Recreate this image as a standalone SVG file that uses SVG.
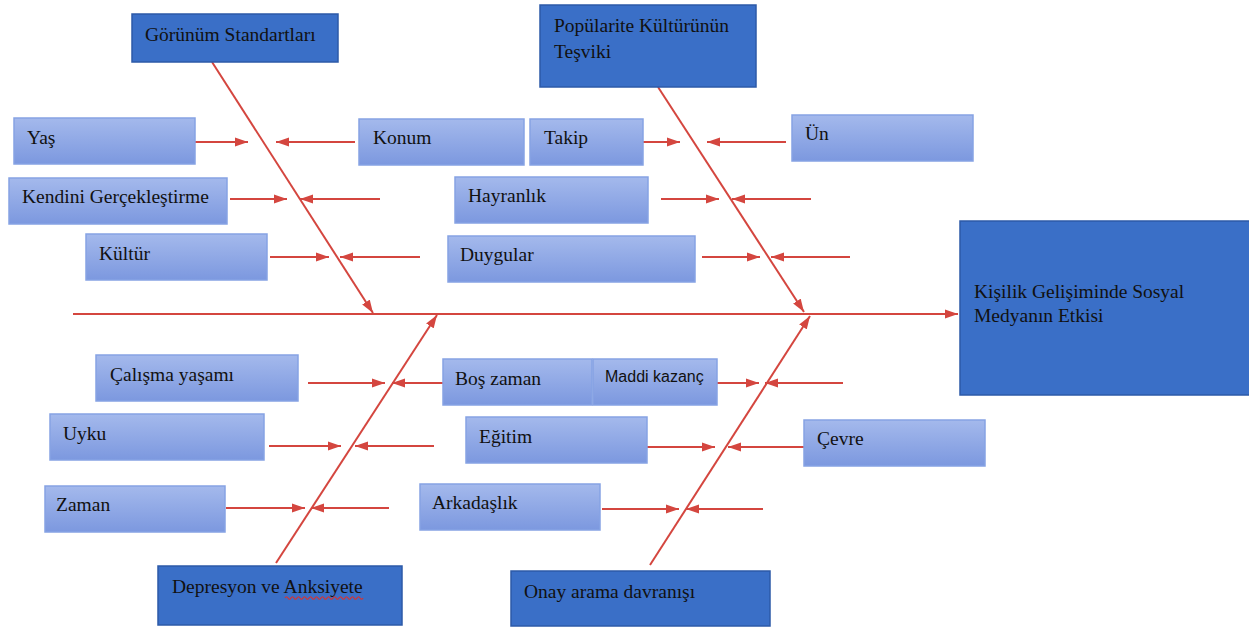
<svg xmlns="http://www.w3.org/2000/svg" width="1249" height="630" viewBox="0 0 1249 630">
<defs>
<linearGradient id="lg" x1="0" y1="0" x2="0" y2="1">
<stop offset="0" stop-color="#a4b9ec"/>
<stop offset="1" stop-color="#7c98df"/>
</linearGradient>
<marker id="ah" markerUnits="userSpaceOnUse" markerWidth="14" markerHeight="10" refX="13" refY="5" orient="auto">
<path d="M0,0.5 L13,5 L0,9.5 z" fill="#d4463f"/>
</marker>
<style>
.dark{fill:#3a6fc7;stroke:#2c5aa8;stroke-width:1.5}
.light{fill:url(#lg);stroke:#86a3e4;stroke-width:1.5}
.t{font-family:"Liberation Serif","Times New Roman",serif;font-size:19.5px;fill:#111}
.s{font-family:"Liberation Sans",Arial,sans-serif;font-size:16px;fill:#111}
.c line{stroke:#d4463f;stroke-width:2}
.a{marker-end:url(#ah)}
</style>
</defs>
<rect width="1249" height="630" fill="#ffffff"/>
<g class="c" id="connectors">
<line x1="73" y1="314" x2="958" y2="314" class="a"/>
<line x1="212" y1="62" x2="373" y2="313" class="a"/>
<line x1="658" y1="87" x2="804" y2="312" class="a"/>
<line x1="276" y1="563" x2="437" y2="315" class="a"/>
<line x1="650" y1="565" x2="810" y2="316" class="a"/>
<line x1="195" y1="142" x2="248" y2="142" class="a"/>
<line x1="355" y1="142" x2="276" y2="142" class="a"/>
<line x1="230" y1="199" x2="287" y2="199" class="a"/>
<line x1="380" y1="199" x2="300" y2="199" class="a"/>
<line x1="270" y1="257" x2="329" y2="257" class="a"/>
<line x1="420" y1="257" x2="340" y2="257" class="a"/>
<line x1="643" y1="142" x2="680" y2="142" class="a"/>
<line x1="786" y1="142" x2="707" y2="142" class="a"/>
<line x1="661" y1="199" x2="719" y2="199" class="a"/>
<line x1="811" y1="199" x2="732" y2="199" class="a"/>
<line x1="702" y1="257" x2="760" y2="257" class="a"/>
<line x1="850" y1="257" x2="771" y2="257" class="a"/>
<line x1="308" y1="383" x2="385" y2="383" class="a"/>
<line x1="443" y1="383" x2="392" y2="383" class="a"/>
<line x1="269" y1="446" x2="341" y2="446" class="a"/>
<line x1="434" y1="446" x2="355" y2="446" class="a"/>
<line x1="226" y1="508" x2="305" y2="508" class="a"/>
<line x1="389" y1="508" x2="311" y2="508" class="a"/>
<line x1="717" y1="383" x2="759" y2="383" class="a"/>
<line x1="843" y1="383" x2="765" y2="383" class="a"/>
<line x1="647" y1="447" x2="715" y2="447" class="a"/>
<line x1="804" y1="447" x2="728" y2="447" class="a"/>
<line x1="602" y1="509" x2="679" y2="509" class="a"/>
<line x1="763" y1="509" x2="686" y2="509" class="a"/>
</g>
<g id="n-effect"><rect class="dark" x="960" y="221" width="290" height="174"/><text class="t" x="974" y="298">Kişilik Gelişiminde Sosyal</text><text class="t" x="974" y="322">Medyanın Etkisi</text></g>
<g id="n-gorunum"><rect class="dark" x="132" y="14" width="206" height="48"/><text class="t" x="145" y="41">Görünüm Standartları</text></g>
<g id="n-populer"><rect class="dark" x="540" y="5" width="216" height="82"/><text class="t" x="554" y="32">Popülarite Kültürünün</text><text class="t" x="554" y="58">Teşviki</text></g>
<g id="n-depresyon"><rect class="dark" x="158" y="566" width="244" height="59"/><text class="t" x="172" y="593">Depresyon ve Anksiyete</text><path d="M285,598 q1.5,-2.5 3,0 t3,0 t3,0 t3,0 t3,0 t3,0 t3,0 t3,0 t3,0 t3,0 t3,0 t3,0 t3,0 t3,0 t3,0 t3,0 t3,0 t3,0 t3,0 t3,0 t3,0 t3,0 t3,0 t3,0 t3,0 t3,0" fill="none" stroke="#e0302a" stroke-width="1.2"/></g>
<g id="n-onay"><rect class="dark" x="511" y="571" width="259" height="55"/><text class="t" x="524" y="598">Onay arama davranışı</text></g>
<g id="n-yas"><rect class="light" x="14" y="118" width="181" height="46"/><text class="t" x="27" y="144">Yaş</text></g>
<g id="n-konum"><rect class="light" x="359" y="119" width="165" height="46"/><text class="t" x="373" y="144">Konum</text></g>
<g id="n-takip"><rect class="light" x="530" y="119" width="113" height="46"/><text class="t" x="544" y="144">Takip</text></g>
<g id="n-un"><rect class="light" x="792" y="115" width="181" height="46"/><text class="t" x="805" y="140">Ün</text></g>
<g id="n-kendini"><rect class="light" x="9" y="178" width="218" height="46"/><text class="t" x="22" y="203">Kendini Gerçekleştirme</text></g>
<g id="n-hayranlik"><rect class="light" x="455" y="177" width="193" height="46"/><text class="t" x="468" y="202">Hayranlık</text></g>
<g id="n-kultur"><rect class="light" x="86" y="234" width="181" height="46"/><text class="t" x="99" y="260">Kültür</text></g>
<g id="n-duygular"><rect class="light" x="448" y="236" width="247" height="46"/><text class="t" x="460" y="261">Duygular</text></g>
<g id="n-calisma"><rect class="light" x="96" y="355" width="202" height="46"/><text class="t" x="110" y="381">Çalışma yaşamı</text></g>
<g id="n-bos"><rect class="light" x="443" y="359" width="149" height="46"/><text class="t" x="455" y="385">Boş zaman</text></g>
<g id="n-maddi"><rect class="light" x="593" y="359" width="124" height="46"/><text class="s" x="605" y="382">Maddi kazanç</text></g>
<g id="n-uyku"><rect class="light" x="50" y="414" width="214" height="46"/><text class="t" x="63" y="440">Uyku</text></g>
<g id="n-egitim"><rect class="light" x="466" y="417" width="181" height="46"/><text class="t" x="479" y="443">Eğitim</text></g>
<g id="n-cevre"><rect class="light" x="804" y="420" width="181" height="46"/><text class="t" x="817" y="445">Çevre</text></g>
<g id="n-zaman"><rect class="light" x="45" y="486" width="180" height="46"/><text class="t" x="56" y="511">Zaman</text></g>
<g id="n-arkadaslik"><rect class="light" x="420" y="484" width="180" height="46"/><text class="t" x="432" y="509">Arkadaşlık</text></g>
</svg>
